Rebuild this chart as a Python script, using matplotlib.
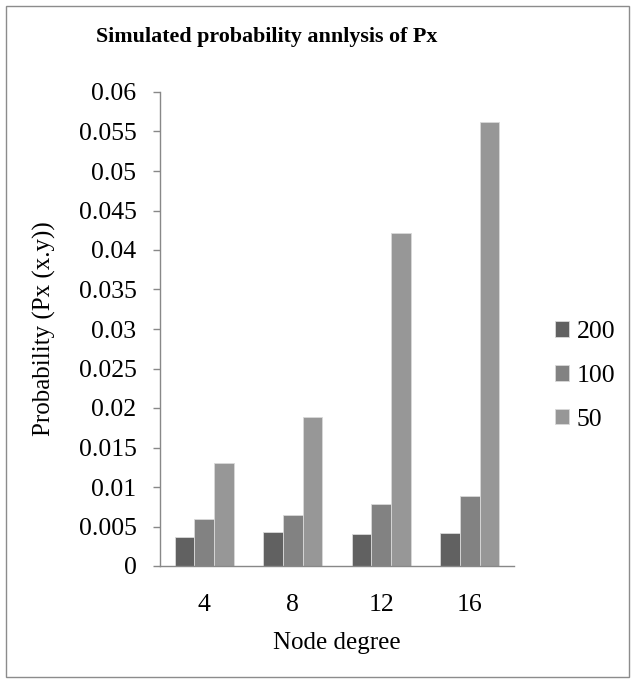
import matplotlib
matplotlib.use("Agg")
import matplotlib.pyplot as plt
import numpy as np
from matplotlib.patches import Rectangle

categories = ["4", "8", "12", "16"]
series_names = ["200", "100", "50"]
s200 = [0.0037, 0.0043, 0.0041, 0.0042]
s100 = [0.0060, 0.0065, 0.0078, 0.0089]
s50 = [0.0130, 0.0188, 0.0422, 0.0562]
colors = ["#616161", "#828282", "#979797"]
yticks = [0, 0.005, 0.01, 0.015, 0.02, 0.025, 0.03, 0.035, 0.04, 0.045, 0.05, 0.055, 0.06]
ytick_labels = ["0", "0.005", "0.01", "0.015", "0.02", "0.025", "0.03", "0.035", "0.04", "0.045", "0.05", "0.055", "0.06"]

plt.rcParams['font.family'] = ['Liberation Serif', 'DejaVu Serif']

fig = plt.figure(figsize=(6.37, 6.85), dpi=100)
W, H = 637, 685
ax = fig.add_axes([160 / W, 1 - 566 / H, (514 - 160) / W, (566 - 92) / H])

x = np.arange(len(categories))
bw = 0.222
for i, (vals, name, c) in enumerate(zip([s200, s100, s50], series_names, colors)):
    ax.bar(x + (i - 1) * bw, vals, width=bw, color=c, edgecolor="#d9d9d9",
           linewidth=0.6, label=name, zorder=2)

fs = 18.5
fl = 18
ax.set_xlim(-0.5, len(categories) - 0.5)
ax.set_ylim(0, 0.06)
ax.set_yticks(yticks)
ax.set_yticklabels(ytick_labels)
ax.set_xticks(x)
ax.set_xticklabels(categories)
for s in ["top", "right"]:
    ax.spines[s].set_visible(False)
for s in ["left", "bottom"]:
    ax.spines[s].set_color("#888888")
    ax.spines[s].set_linewidth(1.0)
ax.tick_params(axis="y", length=5, width=1.0, color="#888888", labelsize=fs, pad=12)
ax.tick_params(axis="x", length=0, labelsize=fs, pad=20)

ax.set_xlabel("Node degree", fontsize=fl, labelpad=12)
ax.set_ylabel("Probability (Px (x.y))", fontsize=fl, labelpad=16)

fig.text(267 / W, 1 - 37 / H, "Simulated probability annlysis of Px",
         ha="center", va="center", fontsize=15.8, fontweight="bold")

leg = ax.legend(loc="center left", bbox_to_anchor=(555 / W, 1 - 376 / H),
                bbox_transform=fig.transFigure, frameon=False, fontsize=fs,
                handlelength=0.55, handleheight=0.55, handletextpad=0.3,
                labelspacing=0.85, borderaxespad=0, borderpad=0)

fig.patches.append(Rectangle((6 / W, 8 / H), (629 - 6) / W, (679 - 8) / H,
                             transform=fig.transFigure, fill=False,
                             edgecolor="#8c8c8c", linewidth=1.0))

fig.savefig("out.png", dpi=100)
